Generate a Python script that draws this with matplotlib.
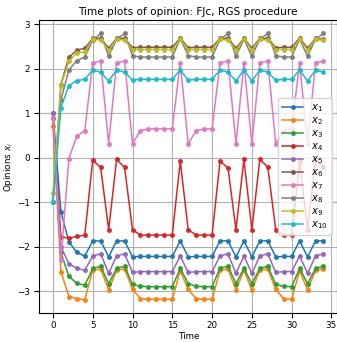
import matplotlib
matplotlib.use('Agg')
import matplotlib.pyplot as plt
import numpy as np

# time steps 0..34
time = list(range(35))

x1 = [1.0, -1.22, -1.89, -2.13, -2.21, -1.87, -1.87, -2.23, -1.87, -1.87, -2.23, -2.22, -2.22, -2.22, -2.22,
      -2.22, -1.87, -2.23, -2.22, -2.22, -2.22, -1.87, -1.87, -2.23, -1.87, -2.23, -1.87, -1.87, -2.23, -2.22,
      -2.22, -1.87, -2.23, -1.87, -1.87]
x2 = [0.7, -2.56, -3.12, -3.17, -3.19, -2.53, -2.50, -2.97, -2.53, -2.50, -2.96, -3.17, -3.18, -3.18, -3.18,
      -3.18, -2.54, -2.96, -3.17, -3.18, -3.18, -2.53, -2.50, -2.97, -2.53, -2.97, -2.53, -2.50, -2.96, -3.17,
      -3.18, -2.54, -2.97, -2.53, -2.50]
x3 = [0.9, -2.13, -2.67, -2.82, -2.87, -2.49, -2.44, -2.83, -2.49, -2.44, -2.85, -2.89, -2.90, -2.90, -2.90,
      -2.90, -2.49, -2.83, -2.89, -2.90, -2.90, -2.48, -2.44, -2.83, -2.49, -2.83, -2.49, -2.44, -2.85, -2.89,
      -2.90, -2.49, -2.83, -2.49, -2.44]
x4 = [0.9, -1.78, -1.81, -1.77, -1.74, -0.06, -0.22, -1.62, -0.04, -0.22, -1.62, -1.74, -1.74, -1.74, -1.74,
      -1.74, -0.08, -1.62, -1.74, -1.74, -1.74, -0.08, -0.23, -1.62, -0.04, -1.62, -0.04, -0.21, -1.62, -1.74,
      -1.74, -0.08, -1.62, -0.05, -0.22]
x5 = [1.0, -2.0, -2.38, -2.49, -2.53, -2.21, -2.16, -2.60, -2.21, -2.16, -2.58, -2.56, -2.56, -2.56, -2.56,
      -2.56, -2.21, -2.58, -2.56, -2.56, -2.56, -2.21, -2.16, -2.60, -2.21, -2.60, -2.21, -2.16, -2.58, -2.56,
      -2.56, -2.21, -2.60, -2.21, -2.16]
x6 = [-1.0, 1.64, 2.26, 2.41, 2.46, 2.68, 2.68, 2.46, 2.68, 2.68, 2.47, 2.48, 2.48, 2.48, 2.48,
      2.48, 2.69, 2.47, 2.48, 2.48, 2.48, 2.68, 2.68, 2.46, 2.68, 2.46, 2.68, 2.68, 2.47, 2.48,
      2.48, 2.69, 2.46, 2.68, 2.66]
x7 = [0.9, -2.29, -0.02, 0.48, 0.61, 2.13, 2.17, 0.31, 2.13, 2.17, 0.31, 0.61, 0.64, 0.65, 0.65,
      0.65, 2.13, 0.31, 0.61, 0.64, 0.65, 2.13, 2.17, 0.31, 2.13, 0.31, 2.13, 2.17, 0.31, 0.61,
      0.64, 2.13, 0.31, 2.13, 2.17]
x8 = [-1.0, 1.3, 1.97, 2.18, 2.26, 2.64, 2.79, 2.28, 2.66, 2.79, 2.29, 2.26, 2.26, 2.26, 2.26,
      2.26, 2.68, 2.29, 2.26, 2.26, 2.26, 2.66, 2.79, 2.28, 2.66, 2.28, 2.66, 2.79, 2.29, 2.26,
      2.26, 2.66, 2.28, 2.66, 2.79]
x9 = [-0.8, 1.62, 2.17, 2.35, 2.38, 2.66, 2.64, 2.42, 2.66, 2.64, 2.43, 2.43, 2.43, 2.43, 2.43,
      2.43, 2.66, 2.43, 2.43, 2.43, 2.43, 2.66, 2.64, 2.42, 2.66, 2.42, 2.66, 2.64, 2.43, 2.43,
      2.43, 2.66, 2.42, 2.66, 2.64]
x10 = [-1.0, 1.12, 1.62, 1.73, 1.76, 1.97, 1.92, 1.72, 1.97, 1.92, 1.74, 1.76, 1.76, 1.76, 1.76,
       1.76, 1.97, 1.74, 1.76, 1.76, 1.76, 1.97, 1.92, 1.72, 1.97, 1.72, 1.97, 1.92, 1.74, 1.76,
       1.76, 1.97, 1.72, 1.97, 1.92]

series = [x1, x2, x3, x4, x5, x6, x7, x8, x9, x10]
labels = ['$x_{%d}$' % (i + 1) for i in range(10)]

plt.rcParams['font.size'] = 6.3
fig = plt.figure(figsize=(3.37, 3.42), dpi=100)
ax = fig.add_axes([0.117, 0.085, 0.883, 0.856])

for vals, lab in zip(series, labels):
    ax.plot(time, vals, marker='o', markersize=2.5, linewidth=1.1, label=lab)

ax.set_title('Time plots of opinion: FJc, RGS procedure', fontsize=7.6, pad=4)
ax.set_xlabel('Time', labelpad=1)
ax.set_ylabel('Opinions $x_i$', labelpad=1.5)
ax.tick_params(axis='x', pad=2.5)
ax.grid(True)
ax.legend(loc='center right', fontsize=7.2, labelspacing=0.12, handlelength=2.1)

fig.savefig('out.png', dpi=100)
